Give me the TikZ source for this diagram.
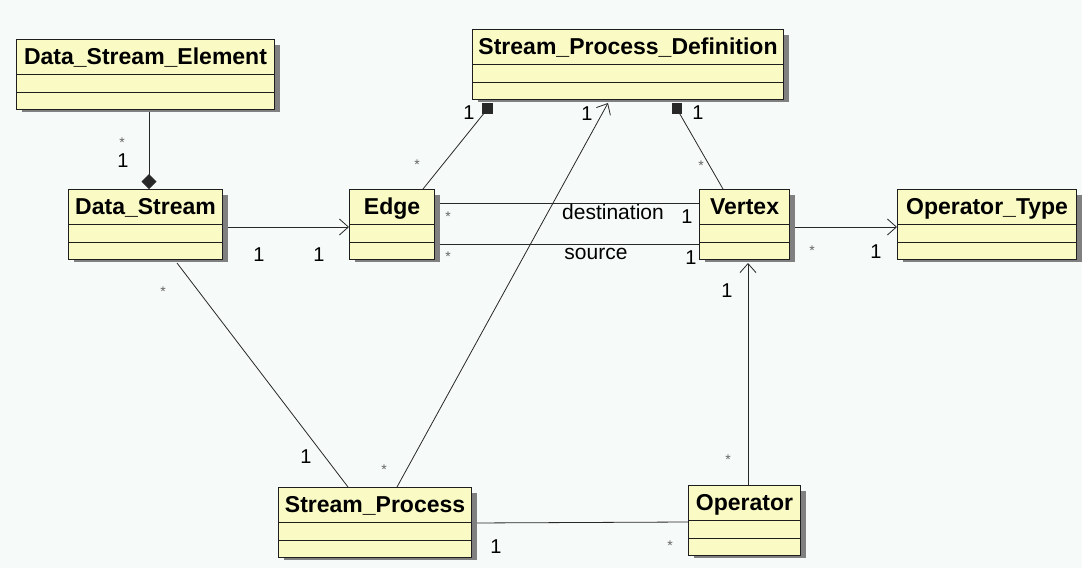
\documentclass[tikz,border=0pt]{standalone}
\usepackage{fontspec}
\setmainfont{Liberation Sans}
\usetikzlibrary{arrows.meta,calc,shapes.multipart}

\definecolor{canvas}{RGB}{246,250,248}
\definecolor{classfill}{RGB}{250,250,196}
\definecolor{classedge}{RGB}{30,30,30}
\definecolor{wire}{RGB}{40,40,40}
\definecolor{boxshadow}{RGB}{128,128,128}
\definecolor{stargray}{RGB}{100,100,100}

\tikzset{
  umlclass/.style={rectangle split, rectangle split parts=3,
    draw=classedge, fill=classfill, line width=1.1pt,
    inner xsep=0pt, inner ysep=2pt,
    rectangle split empty part height=12.5pt,
    rectangle split empty part depth=0pt,
    anchor=north west,
    font=\fontsize{23}{25}\selectfont\bfseries},
  shadowbox/.style={rectangle, fill=boxshadow, draw=none, inner sep=0pt,
    minimum height=67pt, anchor=north west},
  assoc/.style={draw=wire, line width=0.8pt},
  navig/.style={assoc, -{Straight Barb[length=9pt,width=16pt,line width=0.8pt]}},
  mult/.style={font=\fontsize{20}{21}\selectfont, inner sep=0pt},
  role/.style={font=\fontsize{21}{22}\selectfont, inner sep=0pt},
  star/.style={font=\fontsize{14}{14}\selectfont, text=stargray, inner sep=0pt, yshift=-3pt},
}

% header strut: 22pt above the baseline, 8pt below
\newcommand\hdr[1]{\rule[-8pt]{0pt}{30pt}#1\nodepart{two}\nodepart{three}}
% a class box with its shadow: name, north-west corner, width, title
\newcommand\umlbox[5]{%
  \pgfmathsetmacro\shx{#2+6}%
  \pgfmathsetmacro\shy{#3+6}%
  \node[shadowbox, minimum width=#4pt] (#1-shadow) at (\shx,\shy) {};
  \node[umlclass, minimum width=#4pt] (#1) at (#2,#3) {\hdr{#5}};}

\begin{document}
\begin{tikzpicture}[x=1pt, y=-1pt]
\fill[canvas] (0,0) rectangle (1082,568);
\useasboundingbox (0,0) rectangle (1082,568);

% association end points, on the class borders
\coordinate (dseS)  at (149,106);
\coordinate (dsN)   at (149,189);
\coordinate (dsE)   at (222,227);
\coordinate (dsS)   at (177,263);
\coordinate (edgeW) at (349,227);
\coordinate (edgeN) at (423,189);
\coordinate (edgeE1) at (434,203);
\coordinate (edgeE2) at (434,244);
\coordinate (spdA)  at (485,112);
\coordinate (spdB)  at (608,103);
\coordinate (spdC)  at (677,109);
\coordinate (vtxW1) at (699,203);
\coordinate (vtxW2) at (699,244);
\coordinate (vtxN)  at (723,189);
\coordinate (vtxE)  at (789,227);
\coordinate (vtxS)  at (748,263);
\coordinate (otW)   at (897,227);
\coordinate (spN1)  at (348,487);
\coordinate (spN2)  at (397,487);
\coordinate (spE)   at (471,523);
\coordinate (opW)   at (688,522);
\coordinate (opN)   at (748,485);

% associations, drawn first so the class boxes and shadows sit over their ends
\draw[assoc, -{Diamond[length=15pt,width=15pt]}] (dseS) -- (dsN);
\draw[navig] (dsE) -- (edgeW);
\draw[assoc] (dsS) -- (spN1);
\draw[assoc] (edgeN) -- (spdA);
\draw[navig] (spN2) -- (spdB);
\draw[assoc] (vtxN) -- (spdC);
\draw[assoc] (edgeE1) -- (vtxW1);
\draw[assoc] (edgeE2) -- (vtxW2);
\draw[navig] (vtxE) -- (otW);
\draw[navig] (opN) -- (vtxS);
\draw[assoc] (spE) -- (opW);

% classes with their shadows
\umlbox{dse}{16}{39}{258}{Data\_Stream\_Element}
\umlbox{ds}{68}{189}{154}{Data\_Stream}
\umlbox{spd}{472}{29}{311}{Stream\_Process\_Definition}
\umlbox{edge}{349}{189}{85}{Edge}
\umlbox{vtx}{699}{189}{90}{Vertex}
\umlbox{optype}{897}{189}{179}{Operator\_Type}
\umlbox{sp}{278}{487}{193}{Stream\_Process}
\umlbox{op}{688}{485}{112}{Operator}

% composition ends at Stream_Process_Definition
\fill[wire] (482,103) rectangle (493,114);
\fill[wire] (672,103) rectangle (682,114);

% multiplicities and role names
\node[star] (m1a) at (122,140) {*};
\node[mult] (m1b) at (123,161) {1};
\node[mult] (m2a) at (259,255) {1};
\node[mult] (m2b) at (319,255) {1};
\node[star] (m3a) at (163,289) {*};
\node[mult] (m3b) at (306,457) {1};
\node[star] (m4a) at (384,467) {*};
\node[mult] (m4b) at (587,114) {1};
\node[mult] (m5a) at (469,113) {1};
\node[star] (m5b) at (417,162) {*};
\node[mult] (m6a) at (698,113) {1};
\node[star] (m6b) at (701,163) {*};
\node[star] (m7a) at (448,214) {*};
\node[role] (r7)  at (613,212) {destination};
\node[mult] (m7b) at (687,217) {1};
\node[star] (m8a) at (448,254) {*};
\node[role] (r8)  at (596,254) {source};
\node[mult] (m8b) at (691,258) {1};
\node[star] (m9a) at (812,248) {*};
\node[mult] (m9b) at (876,252) {1};
\node[mult] (m10a) at (727,291) {1};
\node[star] (m10b) at (728,457) {*};
\node[mult] (m11a) at (496,547) {1};
\node[star] (m11b) at (670,543) {*};
\end{tikzpicture}
\end{document}
